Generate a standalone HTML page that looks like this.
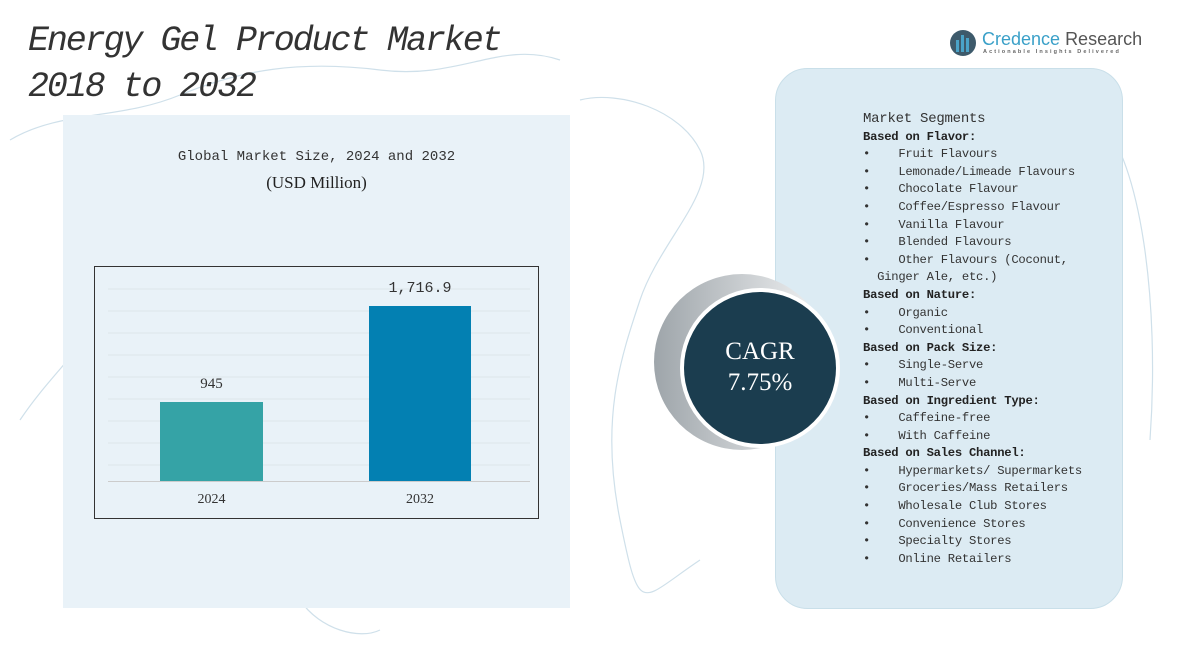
<!DOCTYPE html>
<html><head><meta charset="utf-8"><style>
body{margin:0;width:1202px;height:645px;background:#fff;position:relative;overflow:hidden;font-family:"Liberation Mono","Noto Serif CJK SC",monospace;color:#333}
.abs{position:absolute}
.title{left:28px;top:18px;font-family:"Liberation Mono",monospace;font-style:italic;font-size:35px;line-height:46px;color:#333;letter-spacing:-2.1px}
.seg{left:863px;top:111px;font-size:12.2px;line-height:17.6px;color:#333;white-space:pre;letter-spacing:-0.25px}
.seg b{font-weight:bold;color:#222}
</style></head><body>
<svg class="abs" style="left:0;top:0" width="1202" height="645">
<g fill="none" stroke="#cfe0ea" stroke-width="1.2">
<path d="M10 140 C60 110 120 120 180 95 S300 60 380 70 S500 40 560 60"/>
<path d="M20 420 C60 360 110 330 120 260 S160 190 230 180"/>
<path d="M580 100 C620 90 680 110 700 150 S660 240 640 300 S600 420 620 520 S640 600 700 560"/>
<path d="M1100 120 C1140 160 1160 300 1150 440"/>
<path d="M300 600 C320 630 360 640 380 630"/>
</g>
<rect x="63" y="115" width="507" height="493" fill="#e9f2f8"/>
<rect x="94.5" y="266.5" width="444" height="252" fill="none" stroke="#333" stroke-width="1"/>
<g stroke="#dde5ea" stroke-width="1">
<line x1="108" x2="530" y1="289" y2="289"/><line x1="108" x2="530" y1="311" y2="311"/>
<line x1="108" x2="530" y1="333" y2="333"/><line x1="108" x2="530" y1="355" y2="355"/>
<line x1="108" x2="530" y1="377" y2="377"/><line x1="108" x2="530" y1="399" y2="399"/>
<line x1="108" x2="530" y1="421" y2="421"/><line x1="108" x2="530" y1="443" y2="443"/>
<line x1="108" x2="530" y1="465" y2="465"/>
</g>
<line x1="108" x2="530" y1="481.5" y2="481.5" stroke="#ccc"/>
<rect x="160" y="402" width="103" height="79" fill="#35a3a6"/>
<rect x="369" y="306" width="102" height="175" fill="#0380b2"/>
<rect x="775.5" y="68.5" width="347" height="540" rx="32" fill="#dcebf3" stroke="#c9dfe9"/>
<defs><linearGradient id="g" x1="0" x2="1"><stop offset="0" stop-color="#9ea5aa"/><stop offset="1" stop-color="#f4f5f6"/></linearGradient></defs>
<circle cx="742" cy="362" r="88" fill="url(#g)"/>
<circle cx="760" cy="368" r="80" fill="#fff"/>
<circle cx="760" cy="368" r="76" fill="#1b3d4f"/>
<circle cx="963" cy="43" r="13" fill="#3d5a6b"/>
<rect x="956" y="40" width="3" height="12" fill="#4aa3c8"/><rect x="961" y="35" width="3" height="17" fill="#4aa3c8"/><rect x="966" y="38" width="3" height="14" fill="#4aa3c8"/>
</svg>
<div class="abs title">Energy Gel Product Market<br>2018 to 2032</div>
<div class="abs" style="left:63px;width:507px;top:149px;text-align:center;font-size:14px;color:#333">Global Market Size, 2024 and 2032</div>
<div class="abs" style="left:63px;width:507px;top:173px;text-align:center;font-size:17px;font-family:'Liberation Serif',serif;color:#222">(USD Million)</div>
<div class="abs" style="left:160px;width:103px;top:376px;text-align:center;font-size:15px;font-family:'Liberation Serif',serif">945</div>
<div class="abs" style="left:369px;width:102px;top:280px;text-align:center;font-size:15px">1,716.9</div>
<div class="abs" style="left:160px;width:103px;top:492px;text-align:center;font-size:14px;font-family:'Liberation Serif',serif">2024</div>
<div class="abs" style="left:369px;width:102px;top:492px;text-align:center;font-size:14px;font-family:'Liberation Serif',serif">2032</div>
<div class="abs" style="left:684px;width:152px;top:336px;text-align:center;color:#fff;font-family:'Liberation Serif',serif;font-size:25px;line-height:31px">CAGR<br>7.75%</div>
<div class="abs" style="left:982px;top:29px;font-family:'Liberation Sans',sans-serif;font-size:18px;color:#3aa0c8">Credence <span style="color:#555">Research</span></div>
<div class="abs" style="left:983px;top:49px;font-family:'Liberation Sans',sans-serif;font-size:5.5px;letter-spacing:2.1px;color:#666;font-weight:bold">Actionable Insights Delivered</div>
<div class="abs seg"><span style="font-size:14px">Market Segments</span>
<b>Based on Flavor:</b>
•    Fruit Flavours
•    Lemonade/Limeade Flavours
•    Chocolate Flavour
•    Coffee/Espresso Flavour
•    Vanilla Flavour
•    Blended Flavours
•    Other Flavours (Coconut,
  Ginger Ale, etc.)
<b>Based on Nature:</b>
•    Organic
•    Conventional
<b>Based on Pack Size:</b>
•    Single-Serve
•    Multi-Serve
<b>Based on Ingredient Type:</b>
•    Caffeine-free
•    With Caffeine
<b>Based on Sales Channel:</b>
•    Hypermarkets/ Supermarkets
•    Groceries/Mass Retailers
•    Wholesale Club Stores
•    Convenience Stores
•    Specialty Stores
•    Online Retailers</div>
</body></html>
